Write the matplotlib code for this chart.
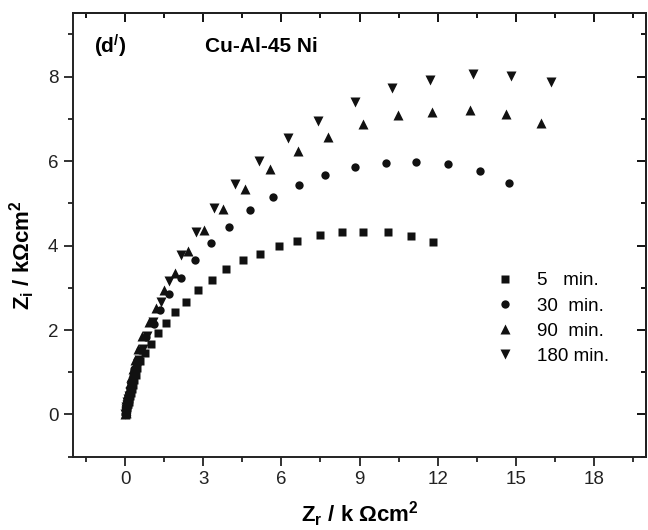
import matplotlib
matplotlib.use("Agg")
import matplotlib.pyplot as plt
from matplotlib.ticker import MultipleLocator

plt.rcParams['font.family'] = ['Liberation Sans', 'DejaVu Sans']
plt.rcParams['mathtext.default'] = 'regular'

# --- data (Zr, Zi in kOhm cm2) ---
zr_5 = [11.83, 10.98, 10.09, 9.15, 8.31, 7.49, 6.58, 5.89, 5.17, 4.54, 3.89, 3.32,
        2.79, 2.33, 1.93, 1.57, 1.27, 1.01, 0.77, 0.58, 0.47, 0.41, 0.36, 0.31,
        0.27, 0.23, 0.19, 0.16, 0.13, 0.11, 0.09, 0.07, 0.05, 0.04, 0.03, 0.02, 0.02]
zi_5 = [4.09, 4.22, 4.31, 4.33, 4.31, 4.24, 4.11, 3.99, 3.81, 3.65, 3.45, 3.18,
        2.94, 2.67, 2.43, 2.17, 1.92, 1.68, 1.46, 1.27, 1.09, 0.94, 0.81, 0.70,
        0.60, 0.51, 0.43, 0.36, 0.30, 0.24, 0.19, 0.15, 0.11, 0.08, 0.05, 0.03, 0.01]

zr_30 = [14.73, 13.61, 12.40, 11.15, 10.00, 8.84, 7.67, 6.68, 5.66, 4.81, 4.00, 3.29,
         2.67, 2.15, 1.69, 1.34, 1.09, 0.82, 0.58, 0.45, 0.36, 0.29, 0.23, 0.18,
         0.14, 0.11, 0.09, 0.07, 0.05, 0.04, 0.03, 0.02, 0.02, 0.01]
zi_30 = [5.47, 5.77, 5.93, 5.97, 5.96, 5.86, 5.66, 5.44, 5.14, 4.84, 4.44, 4.06,
         3.65, 3.24, 2.85, 2.48, 2.15, 1.84, 1.52, 1.28, 1.08, 0.91, 0.76, 0.63,
         0.52, 0.42, 0.34, 0.27, 0.21, 0.16, 0.11, 0.07, 0.04, 0.02]

zr_90 = [15.96, 14.63, 13.24, 11.79, 10.46, 9.13, 7.80, 6.65, 5.57, 4.62, 3.75, 3.02,
         2.41, 1.90, 1.50, 1.17, 0.90, 0.66, 0.49, 0.38, 0.30, 0.24, 0.19, 0.15,
         0.12, 0.09, 0.07, 0.06, 0.05, 0.04, 0.03, 0.02, 0.02, 0.01]
zi_90 = [6.90, 7.12, 7.22, 7.15, 7.08, 6.87, 6.56, 6.23, 5.81, 5.35, 4.87, 4.36,
         3.87, 3.36, 2.94, 2.52, 2.19, 1.85, 1.54, 1.28, 1.07, 0.89, 0.74, 0.61,
         0.50, 0.41, 0.33, 0.26, 0.20, 0.15, 0.11, 0.07, 0.04, 0.02]

zr_180 = [16.35, 14.80, 13.36, 11.70, 10.24, 8.82, 7.39, 6.27, 5.14, 4.20, 3.42, 2.74,
          2.14, 1.69, 1.36, 1.08, 0.85, 0.68, 0.55, 0.45, 0.37, 0.30, 0.24, 0.19,
          0.15, 0.12, 0.09, 0.07, 0.05, 0.04, 0.03, 0.02, 0.02, 0.01]
zi_180 = [7.88, 8.02, 8.07, 7.91, 7.73, 7.39, 6.96, 6.55, 6.00, 5.45, 4.89, 4.33,
          3.78, 3.17, 2.66, 2.20, 1.85, 1.55, 1.30, 1.10, 0.93, 0.78, 0.65, 0.54,
          0.44, 0.36, 0.29, 0.22, 0.17, 0.12, 0.08, 0.05, 0.03, 0.01]

labels = ["5   min.", "30  min.", "90  min.", "180 min."]

fig = plt.figure(figsize=(6.48, 5.30), dpi=100)
ax = fig.add_axes([0.1127, 0.1383, 0.8843, 0.8367])

ax.plot(zr_5, zi_5, 's', color='#111111', ms=5.5, mec='none', label=labels[0])
ax.plot(zr_30, zi_30, 'o', color='#111111', ms=6, mec='none', label=labels[1])
ax.plot(zr_90, zi_90, '^', color='#111111', ms=6.5, mec='none', label=labels[2])
ax.plot(zr_180, zi_180, 'v', color='#111111', ms=6.5, mec='none', label=labels[3])

ax.set_xlim(-2, 20)
ax.set_ylim(-1, 9.5)
ax.xaxis.set_major_locator(MultipleLocator(3))
ax.xaxis.set_minor_locator(MultipleLocator(1.5))
ax.yaxis.set_major_locator(MultipleLocator(2))
ax.yaxis.set_minor_locator(MultipleLocator(1))

for sp in ax.spines.values():
    sp.set_linewidth(1.4)
    sp.set_color('#222222')
ax.tick_params(which='major', direction='out', length=6.5, width=1.3, labelsize=13.5,
               colors='#222222', pad=4)
ax.tick_params(which='minor', direction='out', length=3.5, width=1.3, colors='#222222')

# mirrored ticks on top and right point inwards
secx = ax.secondary_xaxis('top')
secx.xaxis.set_major_locator(MultipleLocator(3))
secx.xaxis.set_minor_locator(MultipleLocator(1.5))
secx.tick_params(which='major', direction='in', length=6.5, width=1.3, labeltop=False)
secx.tick_params(which='minor', direction='in', length=3.5, width=1.3)
secy = ax.secondary_yaxis('right')
secy.yaxis.set_major_locator(MultipleLocator(2))
secy.yaxis.set_minor_locator(MultipleLocator(1))
secy.tick_params(which='major', direction='in', length=6.5, width=1.3, labelright=False)
secy.tick_params(which='minor', direction='in', length=3.5, width=1.3)
for s in (secx, secy):
    for sp in s.spines.values():
        sp.set_linewidth(1.4)

ax.set_xlabel(r'Z$_r$ / k $\Omega$cm$^2$', fontsize=16, fontweight='bold', labelpad=8)
ax.set_ylabel(r'Z$_i$ / k$\Omega$cm$^2$', fontsize=16, fontweight='bold')
ax.yaxis.set_label_coords(-0.063, 0.455)

ax.text(-1.19, 8.71, r'(d$^{/}$)', fontsize=15, fontweight='bold', va='center', ha='left')
ax.text(3.07, 8.71, 'Cu-Al-45 Ni', fontsize=15, fontweight='bold', va='center', ha='left')

ax.legend(loc='upper left', bbox_to_anchor=(0.738, 0.416), frameon=False, fontsize=13.5,
          handlelength=1.0, handletextpad=1.2, labelspacing=0.43, borderpad=0,
          borderaxespad=0, numpoints=1)

fig.savefig('out.png', dpi=100)
